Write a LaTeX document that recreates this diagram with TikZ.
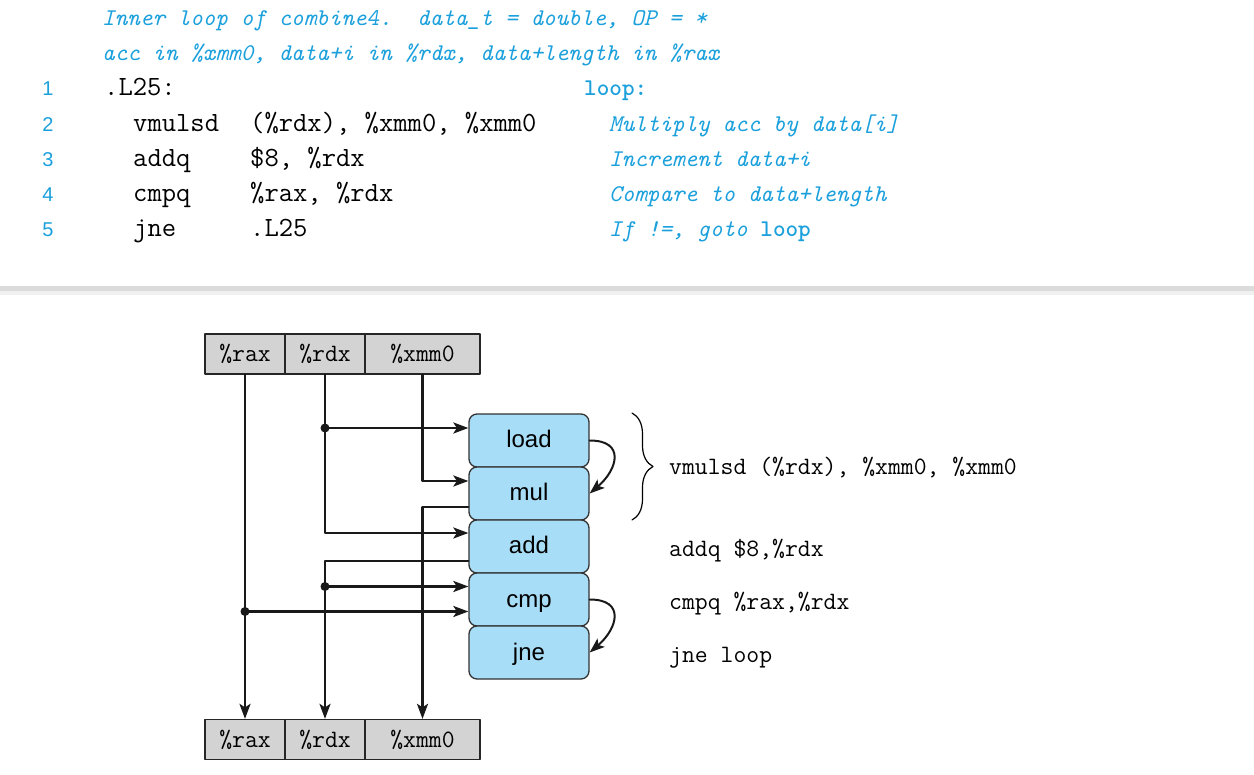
\documentclass[tikz,border=0pt]{standalone}
\usepackage{fontspec}
\newfontfamily\sansf{Liberation Sans}
\usetikzlibrary{arrows.meta,calc,decorations.pathreplacing}
\definecolor{cblue}{RGB}{27,160,220}
\definecolor{boxblue}{RGB}{168,221,247}
\definecolor{regray}{RGB}{211,211,211}
\newcommand\codefont{\ttfamily\fontsize{27.8}{32}\selectfont}
\newcommand\cmtfont{\ttfamily\itshape\fontsize{24}{28}\selectfont}
\newcommand\regfont{\ttfamily\fontsize{25}{29}\selectfont}
\frenchspacing
\begin{document}
\begin{tikzpicture}[x=1pt,y=-1pt,>={Stealth[length=15pt,width=11pt,inset=3.5pt]}, line join=round, line cap=round,
	txt/.style={inner sep=0pt,anchor=base west},
	reg/.style={draw=black!85,fill=regray,line width=1.3pt,minimum height=40pt,inner sep=0pt,font=\regfont},
	unit/.style={draw=black!80,fill=boxblue,rounded corners=8pt,line width=1.3pt,minimum width=120pt,minimum height=53pt,inner sep=0pt,text height=18pt,text depth=3pt,font=\sansf\fontsize{24}{28}\selectfont},
	wire/.style={line width=2.3pt,draw=black!90}]
	\useasboundingbox (0,0) rectangle (1254,775);
	\def\dy{35.2} \def\yo{96} % baselines of the listing
	% listing
	\node[txt,font=\cmtfont,text=cblue] (h1) at (102,26) {Inner loop of combine\textsl{4}.\ \ data\_t = double, OP = *};
	\node[txt,font=\cmtfont,text=cblue] (h2) at (102,61) {acc in \%xmm0, data+i in \%rdx, data+length in \%rax};
	\foreach \k in {1,...,5}{
		\node[inner sep=0pt,anchor=base,font=\sansf\fontsize{20}{24}\selectfont,text=cblue] (n\k) at (48,{\yo+\dy*(\k-1)}) {\k};
	}
	\node[txt,font=\codefont] (lbl) at (104,\yo) {.L25:};
	\node[txt,font=\cmtfont\upshape\bfseries,text=cblue] (lp) at (584,\yo) {loop:};
	\foreach \op/\arg/\cmt [count=\k from 1] in {vmulsd/{(\%rdx), \%xmm0, \%xmm0}/{Multiply acc by data[i]},
		addq/{\$8, \%rdx}/{Increment data+i}, cmpq/{\%rax, \%rdx}/{Compare to data+length},
		jne/{.L25}/{If !=, goto {\upshape\bfseries loop}}}{
		\node[txt,font=\codefont] (op\k) at (133,{\yo+\dy*\k}) {\op};
		\node[txt,font=\codefont] (ar\k) at (250,{\yo+\dy*\k}) {\arg};
		\node[txt,font=\cmtfont,text=cblue] (cm\k) at (609,{\yo+\dy*\k}) {\cmt};
	}
	% separator
	\fill[black!14] (0,286) rectangle (1254,291);
	\fill[black!6] (0,291) rectangle (1254,295);
	% register rows
	\foreach \n/\t/\x/\w in {rax/\%rax/245/80, rdx/\%rdx/325/80, xmm/\%xmm0/422.5/115}{
		\node[reg,minimum width=\w pt] (T\n) at (\x,354) {\t};
		\node[reg,minimum width=\w pt] (B\n) at (\x,739.5) {\t};
	}
	% functional units
	\foreach \n [count=\i from 0] in {load,mul,add,cmp,jne}
		\node[unit] (\n) at (529,{440.5+53*\i}) {\n};
	\coordinate (inL) at ($(load.west)+(0,-12.5)$);
	\coordinate (inM) at ($(mul.west)+(0,-12.5)$);
	\coordinate (outM) at ($(mul.west)+(0,13.5)$);
	\coordinate (inA) at ($(add.west)+(0,-13.5)$);
	\coordinate (outA) at ($(add.west)+(0,14.5)$);
	\coordinate (inC1) at ($(cmp.west)+(0,-13)$);
	\coordinate (inC2) at ($(cmp.west)+(0,12)$);
	\coordinate (jL) at (Trdx.south |- inL);
	\coordinate (jC1) at (Brdx.north |- inC1);
	\coordinate (jC2) at (Trax.south |- inC2);
	% data flow
	\draw[wire,->] (Trdx.south) |- (inA);
	\draw[wire,->] (jL) -- (inL);
	\draw[wire,->] (Txmm.south) |- (inM);
	\draw[wire,->] (outM) -| (Bxmm.north);
	\draw[wire,->] (outA) -| (Brdx.north);
	\draw[wire,->] (jC1) -- (inC1);
	\draw[wire,->] (Trax.south) -- (Brax.north);
	\draw[wire,->] (jC2) -- (inC2);
	\foreach \p in {jL,jC1,jC2} \fill[black!90] (\p) circle (4.5);
	\draw[wire,line width=2pt,->] (load.east) .. controls +(36,0) and +(28,-24) .. (mul.east);
	\draw[wire,line width=2pt,->] (cmp.east) .. controls +(36,0) and +(28,-24) .. (jne.east);
	% instructions
	\draw[line width=1.2pt,decorate,decoration={brace,amplitude=21pt}] (632,413) -- (632,520);
	\node[txt,font=\regfont] (iv) at (669,475) {vmulsd (\%rdx), \%xmm0, \%xmm0};
	\node[txt,font=\regfont] (ia) at (669,557) {addq \$8,\%rdx};
	\node[txt,font=\regfont] (ic) at (669,609) {cmpq \%rax,\%rdx};
	\node[txt,font=\regfont] (ij) at (669,662) {jne loop};
\end{tikzpicture}
\end{document}
